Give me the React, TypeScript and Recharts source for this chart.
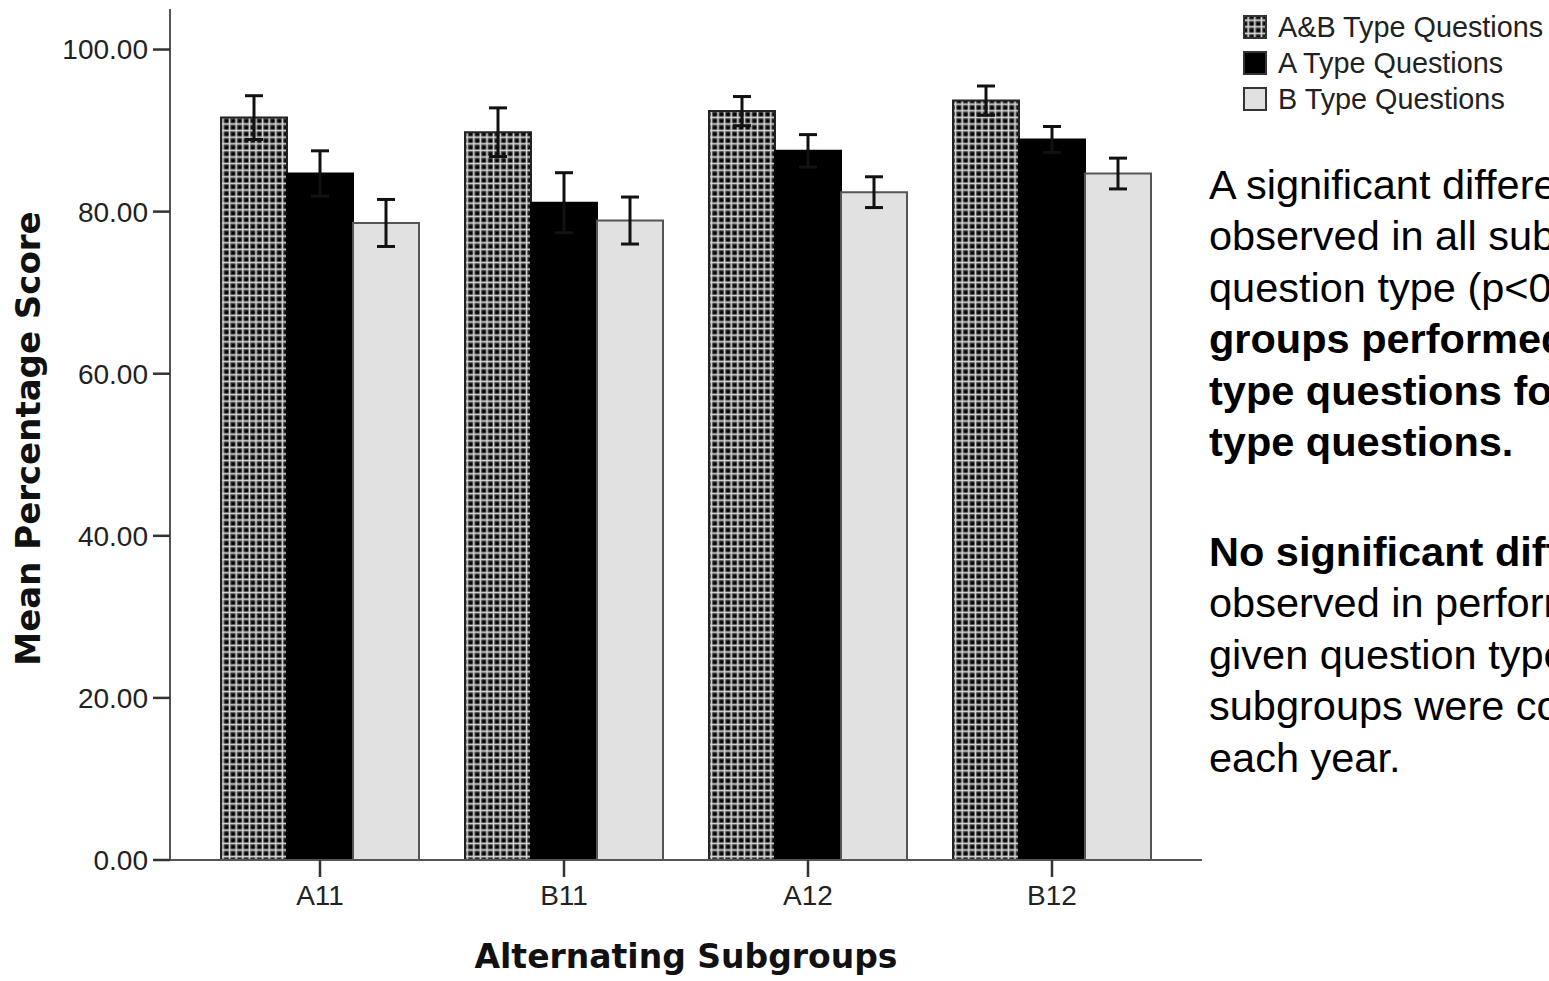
import { BarChart, Bar, XAxis, YAxis, ErrorBar, Legend } from "recharts";

const subgroups = ["A11", "B11", "A12", "B12"];
const abScores = [91.6, 89.8, 92.4, 93.7];
const abErrors = [2.7, 3.0, 1.8, 1.8];
const aScores = [84.7, 81.1, 87.5, 88.9];
const aErrors = [2.8, 3.7, 2.0, 1.6];
const bScores = [78.6, 78.9, 82.4, 84.7];
const bErrors = [2.9, 2.9, 1.9, 1.9];
const yTicks = [0, 20, 40, 60, 80, 100];

const series = [
  { key: "ab", err: "abErr", name: "A&B Type Questions", fill: "url(#checker)", stroke: "#222" },
  { key: "a", err: "aErr", name: "A Type Questions", fill: "#000", stroke: "#000" },
  { key: "b", err: "bErr", name: "B Type Questions", fill: "#e1e1e1", stroke: "#555" },
];

const data = subgroups.map((group, i) => ({
  group,
  ab: abScores[i],
  abErr: abErrors[i],
  a: aScores[i],
  aErr: aErrors[i],
  b: bScores[i],
  bErr: bErrors[i],
}));

const sans = "'Liberation Sans', Arial, sans-serif";
const tickStyle = { fontFamily: sans, fontSize: 28, fill: "#222" };
const titleFont = "'DejaVu Sans', Verdana, sans-serif";

function YTitle({ viewBox }: any) {
  const cy = viewBox.y + viewBox.height / 2 + 4;
  return (
    <text
      x={28}
      y={cy}
      transform={`rotate(-90, 28, ${cy})`}
      textAnchor="middle"
      dominantBaseline="central"
      fontFamily={titleFont}
      fontWeight="bold"
      fontSize={34}
      fill="#111"
    >
      Mean Percentage Score
    </text>
  );
}

function XTitle({ viewBox }: any) {
  return (
    <text
      x={viewBox.x + viewBox.width / 2}
      y={968}
      textAnchor="middle"
      fontFamily={titleFont}
      fontWeight="bold"
      fontSize={33}
      fill="#111"
    >
      Alternating Subgroups
    </text>
  );
}

function LegendBox() {
  return (
    <div style={{ fontFamily: sans, fontSize: 28.8, color: "#222" }}>
      {series.map((s) => (
        <div key={s.key} style={{ display: "flex", alignItems: "center", height: 36 }}>
          <svg width={24} height={24} style={{ marginRight: 11 }}>
            <rect x={1} y={1} width={22} height={22} fill={s.fill} stroke="#333" strokeWidth={2} />
          </svg>
          <span>{s.name}</span>
        </div>
      ))}
    </div>
  );
}

const noteStyle = {
  position: "absolute" as const,
  left: 1209,
  fontFamily: sans,
  fontSize: 41.5,
  lineHeight: "51.4px",
  color: "#000",
  whiteSpace: "nowrap" as const,
};

export default function App() {
  return (
    <div
      style={{
        position: "fixed",
        left: 0,
        top: 0,
        width: 1549,
        height: 981,
        overflow: "hidden",
        background: "#fff",
      }}
    >
      <BarChart
        width={1549}
        height={981}
        data={data}
        margin={{ top: 9, right: 347, bottom: 0, left: 0 }}
        barCategoryGap={23}
        barGap={0}
      >
        <defs>
          <pattern id="checker" patternUnits="userSpaceOnUse" width={6.6} height={6.6}>
            <rect width={6.6} height={6.6} fill="#2a2a2a" />
            <rect x={0} y={4.4} width={6.6} height={1.6} fill="#d8d8d8" />
            <rect x={4.4} y={0} width={1.6} height={6.6} fill="#d8d8d8" />
            <circle cx={2.2} cy={2.2} r={1.6} fill="#000" />
          </pattern>
        </defs>
        <XAxis
          dataKey="group"
          height={121}
          padding={{ left: 28, right: 28 }}
          tick={tickStyle}
          tickSize={17}
          tickMargin={8}
          axisLine={{ stroke: "#555", strokeWidth: 2 }}
          tickLine={{ stroke: "#333", strokeWidth: 2.5 }}
          label={{ content: XTitle }}
        />
        <YAxis
          width={170}
          domain={[0, 105]}
          ticks={yTicks}
          tickFormatter={(v: number) => v.toFixed(2)}
          tick={tickStyle}
          tickSize={17}
          tickMargin={5}
          axisLine={{ stroke: "#555", strokeWidth: 2 }}
          tickLine={{ stroke: "#333", strokeWidth: 2.5 }}
          label={{ content: YTitle }}
        />
        <Legend
          layout="vertical"
          align="center"
          verticalAlign="middle"
          content={LegendBox}
          wrapperStyle={{ left: 1243, top: 9, width: 320 }}
        />
        {series.map((s) => (
          <Bar
            key={s.key}
            dataKey={s.key}
            name={s.name}
            fill={s.fill}
            stroke={s.stroke}
            strokeWidth={2}
            isAnimationActive={false}
          >
            <ErrorBar dataKey={s.err} width={9} stroke="#111" strokeWidth={3} direction="y" />
          </Bar>
        ))}
      </BarChart>
      <div style={{ ...noteStyle, top: 159 }}>
        A significant difference was
        <br />
        observed in all subgroups by
        <br />
        question type (p&lt;0.05). All
        <br />
        <b>groups performed better on A</b>
        <br />
        <b>type questions followed by B</b>
        <br />
        <b>type questions.</b>
      </div>
      <div style={{ ...noteStyle, top: 526 }}>
        <b>No significant difference was</b>
        <br />
        observed in performance on a
        <br />
        given question type when the
        <br />
        subgroups were compared for
        <br />
        each year.
      </div>
    </div>
  );
}
